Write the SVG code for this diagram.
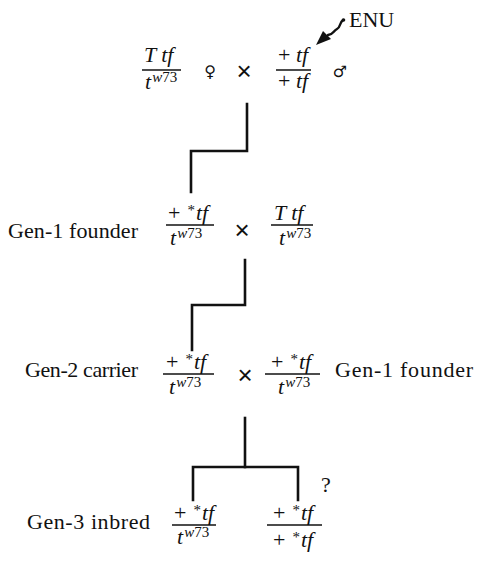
<svg xmlns="http://www.w3.org/2000/svg" width="482" height="569" viewBox="0 0 482 569">
  <defs>
    <style>
      .lbl { font-family: "Liberation Serif", "Times New Roman", serif; font-size: 22px; fill: #111; }
      .fr { font-family: "Liberation Serif", "Times New Roman", serif; font-size: 22px; fill: #111; }
      .it { font-style: italic; }
      .sup { font-size: 15px; }
      .bar { stroke: #111; stroke-width: 1.6; }
      .cross { font-family: "Liberation Sans", Arial, sans-serif; font-size: 26px; fill: #111; text-anchor: middle; }
      .sex { font-family: "DejaVu Sans", sans-serif; font-size: 16px; fill: #111; text-anchor: middle; }
      .wire { fill: none; stroke: #111; stroke-width: 2.6; stroke-linejoin: miter; stroke-linecap: square; }
    </style>
  </defs>

  <!-- parental cross -->
  <g id="p-female">
    <text class="fr it" x="144" y="62">T<tspan dx="5">tf</tspan></text>
    <line class="bar" x1="142" y1="70" x2="181" y2="70"/>
    <text class="fr" x="145" y="89"><tspan class="it">t</tspan><tspan class="sup it" dx="1" dy="-7">w</tspan><tspan class="sup">73</tspan></text>
    <text class="sex" x="210" y="77">♀</text>
  </g>
  <text class="cross" x="244" y="80">×</text>
  <g id="p-male">
    <text class="fr" x="278" y="62">+ <tspan class="it">tf</tspan></text>
    <line class="bar" x1="276" y1="70" x2="311" y2="70"/>
    <text class="fr" x="278" y="88">+ <tspan class="it">tf</tspan></text>
    <text class="sex" x="340" y="77">♂</text>
  </g>
  <g id="enu">
    <path d="M343,20 C339,23 341,27 337,29 C333,31 334,34 328,35" fill="none" stroke="#111" stroke-width="2.4" stroke-linecap="round"/>
    <polygon points="316,45 323,31 331,39" fill="#111"/>
    <circle cx="343.5" cy="20" r="1.8" fill="#111"/>
    <text class="lbl" x="349" y="27">ENU</text>
  </g>

  <!-- generation 1 -->
  <g id="gen1">
    <text class="lbl" x="8" y="238" textLength="130" lengthAdjust="spacing">Gen-1 founder</text>
    <text class="fr" x="168" y="220">+<tspan class="sup" dx="7" dy="-5">*</tspan><tspan class="it" dx="1" dy="5">tf</tspan></text>
    <line class="bar" x1="166" y1="225" x2="214" y2="225"/>
    <text class="fr" x="170" y="245"><tspan class="it">t</tspan><tspan class="sup it" dx="1" dy="-7">w</tspan><tspan class="sup">73</tspan></text>
  </g>
  <text class="cross" x="242" y="239">×</text>
  <g id="gen1-mate">
    <text class="fr it" x="274" y="220">T<tspan dx="5">tf</tspan></text>
    <line class="bar" x1="271" y1="225" x2="313" y2="225"/>
    <text class="fr" x="279" y="245"><tspan class="it">t</tspan><tspan class="sup it" dx="1" dy="-7">w</tspan><tspan class="sup">73</tspan></text>
  </g>

  <!-- generation 2 -->
  <g id="gen2">
    <text class="lbl" x="25" y="377" textLength="113" lengthAdjust="spacing">Gen-2 carrier</text>
    <text class="fr" x="166" y="369">+<tspan class="sup" dx="7" dy="-5">*</tspan><tspan class="it" dx="1" dy="5">tf</tspan></text>
    <line class="bar" x1="163" y1="374" x2="214" y2="374"/>
    <text class="fr" x="169" y="394"><tspan class="it">t</tspan><tspan class="sup it" dx="1" dy="-7">w</tspan><tspan class="sup">73</tspan></text>
  </g>
  <text class="cross" x="245" y="384">×</text>
  <g id="gen2-mate">
    <text class="fr" x="271" y="369">+<tspan class="sup" dx="7" dy="-5">*</tspan><tspan class="it" dx="1" dy="5">tf</tspan></text>
    <line class="bar" x1="265" y1="374" x2="320" y2="374"/>
    <text class="fr" x="278" y="394"><tspan class="it">t</tspan><tspan class="sup it" dx="1" dy="-7">w</tspan><tspan class="sup">73</tspan></text>
    <text class="lbl" x="335" y="377" textLength="138" lengthAdjust="spacing">Gen-1 founder</text>
  </g>

  <!-- generation 3 -->
  <g id="gen3">
    <text class="lbl" x="27" y="529" textLength="123" lengthAdjust="spacing">Gen-3 inbred</text>
    <text class="fr" x="174" y="520">+<tspan class="sup" dx="7" dy="-5">*</tspan><tspan class="it" dx="1" dy="5">tf</tspan></text>
    <line class="bar" x1="172" y1="525" x2="216" y2="525"/>
    <text class="fr" x="177" y="544"><tspan class="it">t</tspan><tspan class="sup it" dx="1" dy="-7">w</tspan><tspan class="sup">73</tspan></text>
  </g>
  <g id="gen3-homozygote">
    <text class="fr" x="273" y="520">+<tspan class="sup" dx="7" dy="-5">*</tspan><tspan class="it" dx="1" dy="5">tf</tspan></text>
    <line class="bar" x1="267" y1="525" x2="322" y2="525"/>
    <text class="fr" x="273" y="547">+<tspan class="sup" dx="7" dy="-5">*</tspan><tspan class="it" dx="1" dy="5">tf</tspan></text>
    <text class="lbl" x="321" y="492">?</text>
  </g>

  <!-- connectors between generations -->
  <g id="connectors">
    <path class="wire" d="M247,104 V151 H191 V192"/>
    <path class="wire" d="M245,260 V305 H192 V350"/>
    <path class="wire" d="M245,418 V467"/>
    <path class="wire" d="M193,500 V467 H298 V500"/>
  </g>
</svg>
